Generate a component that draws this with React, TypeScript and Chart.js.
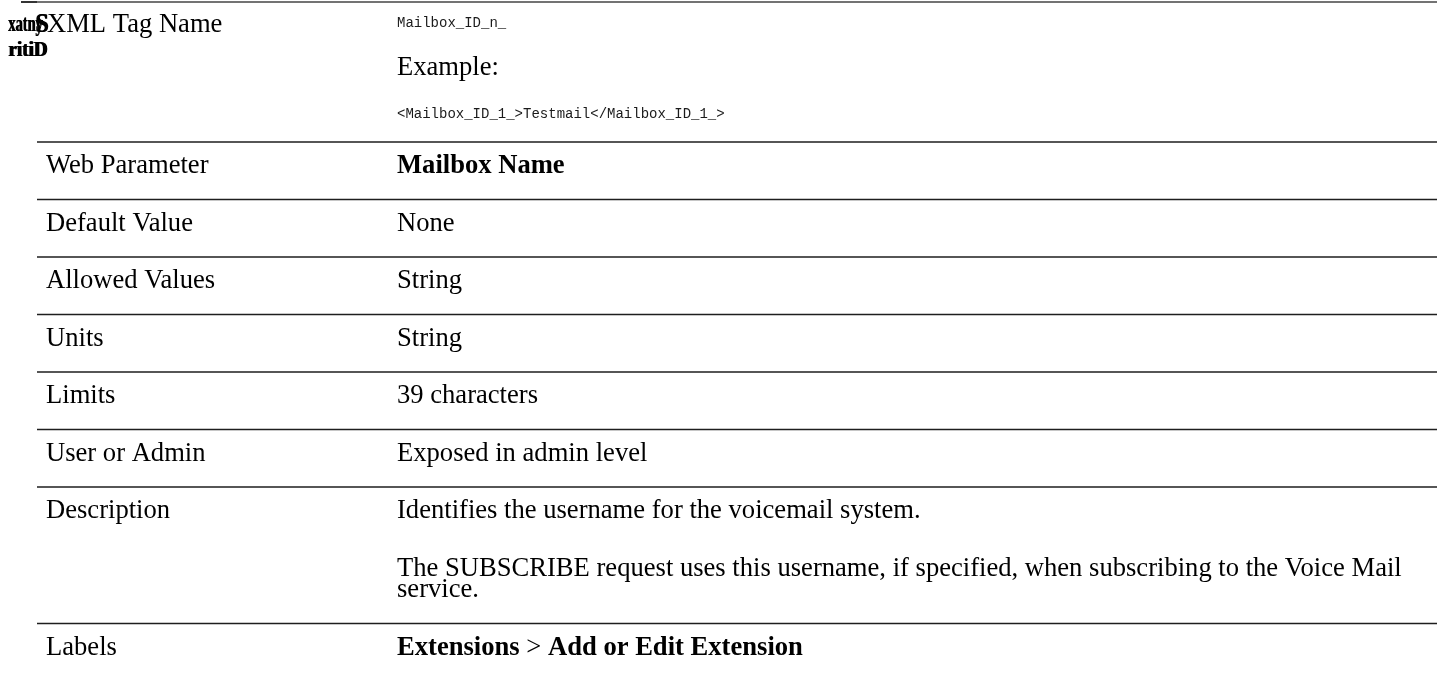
import React, { useEffect, useRef } from "react";
import { Chart, registerables } from "chart.js";

Chart.register(...registerables);

// ---------- data ----------
const sideMarks = ["xatny", "S", "ritiD"];
const headerLabel = "XML Tag Name";
const xmlTagName = "Mailbox_ID_n_";
const exampleCaption = "Example:";
const exampleCode = "<Mailbox_ID_1_>Testmail</Mailbox_ID_1_>";

const rowLabels = [
  "Web Parameter",
  "Default Value",
  "Allowed Values",
  "Units",
  "Limits",
  "User or Admin",
  "Description",
  "Labels",
];

// each value: paragraphs -> lines; **text** marks bold runs
const rowValues: string[][][] = [
  [["**Mailbox Name**"]],
  [["None"]],
  [["String"]],
  [["String"]],
  [["39 characters"]],
  [["Exposed in admin level"]],
  [
    ["Identifies the username for the voicemail system."],
    [
      "The SUBSCRIBE request uses this username, if specified, when subscribing to the Voice Mail",
      "service.",
    ],
  ],
  [["**Extensions** > **Add or Edit Extension**"]],
];

// ---------- styles ----------
const W = 1440;
const H = 675;
const SERIF = '"Liberation Serif", "Times New Roman", serif';
const MONO = '"Liberation Mono", "Courier New", monospace';
const TEXT_SIZE = 26.6;
const MONO_SIZE = 14;
const LINE_LEFT = 37;
const LINE_RIGHT = 1437;
const COL1 = 46;
const COL2 = 397;
const TOP_RULE = 2;
const TABLE_TOP = 142;
const ROW_H = 57.5;
const BASE_OFF = 31;
const PARA_GAP = 58;
const LINE_GAP = 21;

function parseRuns(line: string) {
  const parts = line.split("**");
  return parts.map((t, i) => ({ text: t, bold: i % 2 === 1 })).filter((r) => r.text.length);
}

function drawRich(ctx: CanvasRenderingContext2D, line: string, x: number, y: number) {
  let cx = x;
  for (const r of parseRuns(line)) {
    ctx.font = `${r.bold ? "bold " : ""}${TEXT_SIZE}px ${SERIF}`;
    ctx.fillText(r.text, cx, y);
    cx += ctx.measureText(r.text).width;
  }
}

function rule(ctx: CanvasRenderingContext2D, x1: number, x2: number, y: number, color = "#1e1e1e") {
  ctx.strokeStyle = color;
  ctx.lineWidth = 1.6;
  ctx.beginPath();
  ctx.moveTo(x1, y);
  ctx.lineTo(x2, y);
  ctx.stroke();
}

function heavyText(ctx: CanvasRenderingContext2D, text: string, x: number, y: number, sx: number) {
  ctx.save();
  ctx.translate(x, y);
  ctx.scale(sx, 1);
  ctx.fillText(text, 0, 0);
  ctx.fillText(text, 1.2, 0);
  ctx.restore();
}

const tablePlugin = {
  id: "docTable",
  afterDraw(chart: any) {
    const ctx: CanvasRenderingContext2D = chart.ctx;
    const xs = chart.scales.x;
    const ys = chart.scales.y;
    const X = (v: number) => xs.getPixelForValue(v);
    const Y = (v: number) => ys.getPixelForValue(v);
    ctx.save();
    ctx.textBaseline = "alphabetic";
    ctx.fillStyle = "#000";

    // top rule
    rule(ctx, X(21), X(LINE_LEFT), Y(TOP_RULE), "#000");
    rule(ctx, X(LINE_LEFT), X(LINE_RIGHT), Y(TOP_RULE), "#444");

    // side marks (garbled vertical header)
    ctx.font = `bold 24px ${SERIF}`;
    heavyText(ctx, sideMarks[0], X(8), Y(31), 0.6);
    ctx.font = `bold 28px ${SERIF}`;
    heavyText(ctx, sideMarks[1], X(35), Y(32), 0.85);
    ctx.font = `bold 20px ${SERIF}`;
    heavyText(ctx, sideMarks[2], X(8), Y(56), 0.95);

    // header row
    ctx.font = `${TEXT_SIZE}px ${SERIF}`;
    ctx.fillText(headerLabel, X(COL1 + 1), Y(32));
    ctx.fillStyle = "#1a1a1a";
    ctx.font = `${MONO_SIZE}px ${MONO}`;
    ctx.fillText(xmlTagName, X(COL2), Y(27));
    ctx.fillStyle = "#000";
    ctx.font = `${TEXT_SIZE}px ${SERIF}`;
    ctx.fillText(exampleCaption, X(COL2), Y(75));
    ctx.fillStyle = "#1a1a1a";
    ctx.font = `${MONO_SIZE}px ${MONO}`;
    ctx.fillText(exampleCode, X(COL2), Y(118));
    ctx.fillStyle = "#000";

    // body rows
    let top = TABLE_TOP;
    rowLabels.forEach((label, i) => {
      rule(ctx, X(LINE_LEFT), X(LINE_RIGHT), Y(top));
      const base = top + BASE_OFF;
      ctx.font = `${TEXT_SIZE}px ${SERIF}`;
      ctx.fillText(label, X(COL1), Y(base));
      const paras = rowValues[i];
      let y = base;
      paras.forEach((lines, p) => {
        if (p > 0) y += PARA_GAP;
        lines.forEach((ln, l) => {
          if (l > 0) y += LINE_GAP;
          drawRich(ctx, ln, X(COL2), Y(y));
        });
      });
      top = y - BASE_OFF + ROW_H;
    });
    ctx.restore();
  },
};

export default function App() {
  const ref = useRef<HTMLCanvasElement | null>(null);
  useEffect(() => {
    if (!ref.current) return;
    const chart = new Chart(ref.current, {
      type: "scatter",
      data: { datasets: [] },
      options: {
        animation: false,
        responsive: false,
        maintainAspectRatio: false,
        devicePixelRatio: 1,
        layout: { padding: 0 },
        plugins: { legend: { display: false }, tooltip: { enabled: false } },
        scales: {
          x: { type: "linear", display: false, min: 0, max: W },
          y: { type: "linear", display: false, min: 0, max: H, reverse: true },
        },
      },
      plugins: [tablePlugin],
    } as any);
    return () => chart.destroy();
  }, []);
  return (
    <div style={{ position: "fixed", left: 0, top: 0, width: W, height: H, background: "#fff" }}>
      <canvas ref={ref} width={W} height={H} style={{ width: W, height: H, display: "block" }} />
    </div>
  );
}
